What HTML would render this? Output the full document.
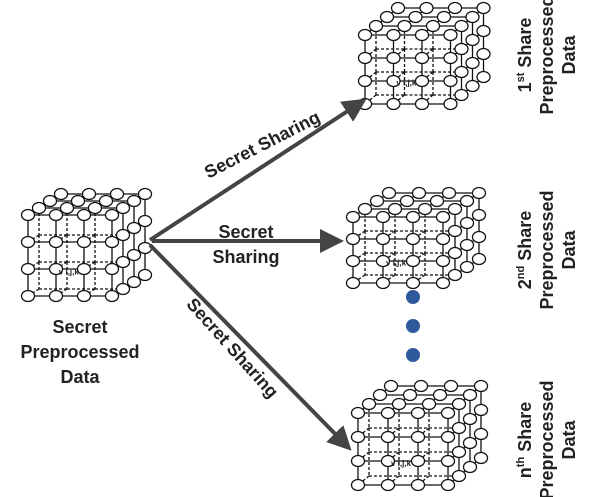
<!DOCTYPE html>
<html><head><meta charset="utf-8"><style>
body{margin:0;background:#fff;width:589px;height:497px;overflow:hidden}
svg{display:block}
text{font-family:"Liberation Sans",Arial,sans-serif;font-weight:bold;fill:#222}
</style></head><body>
<svg id="s" width="589" height="497" viewBox="0 0 589 497">
<defs><marker id="ah" markerWidth="6" markerHeight="6" refX="4" refY="3" orient="auto" markerUnits="strokeWidth"><path d="M0,0 L6,3 L0,6 z" fill="#444"/></marker></defs>
<g id="cubes"></g>
<g stroke="#444" stroke-width="4" fill="none">
<line x1="150" y1="240" x2="360" y2="103" marker-end="url(#ah)"/>
<line x1="152" y1="241" x2="336" y2="241" marker-end="url(#ah)"/>
<line x1="150" y1="245" x2="346" y2="445" marker-end="url(#ah)"/>
</g>
<text x="265" y="150" font-size="18" text-anchor="middle" transform="rotate(-27 265 150)">Secret Sharing</text>
<text x="246" y="238" font-size="18" text-anchor="middle">Secret</text>
<text x="246" y="263" font-size="18" text-anchor="middle">Sharing</text>
<text x="228" y="352" font-size="18" text-anchor="middle" transform="rotate(48 228 352)">Secret Sharing</text>
<text x="80" y="333" font-size="18" text-anchor="middle">Secret</text>
<text x="80" y="358" font-size="18" text-anchor="middle">Preprocessed</text>
<text x="80" y="383" font-size="18" text-anchor="middle">Data</text>
<g font-size="18" text-anchor="middle">
<text transform="translate(531,55) rotate(-90)">1<tspan font-size="11" dy="-7">st</tspan><tspan dy="7"> Share</tspan></text>
<text transform="translate(553,55) rotate(-90)">Preprocessed</text>
<text transform="translate(575,55) rotate(-90)">Data</text>
<text transform="translate(531,250) rotate(-90)">2<tspan font-size="11" dy="-7">nd</tspan><tspan dy="7"> Share</tspan></text>
<text transform="translate(553,250) rotate(-90)">Preprocessed</text>
<text transform="translate(575,250) rotate(-90)">Data</text>
<text transform="translate(531,440) rotate(-90)">n<tspan font-size="11" dy="-7">th</tspan><tspan dy="7"> Share</tspan></text>
<text transform="translate(553,440) rotate(-90)">Preprocessed</text>
<text transform="translate(575,440) rotate(-90)">Data</text>
</g>
<g fill="#2e5a9b"><circle cx="413" cy="297" r="7"/><circle cx="413" cy="326" r="7"/><circle cx="413" cy="355" r="7"/></g>
</svg>
<script>
var NS="http://www.w3.org/2000/svg",G=document.getElementById("cubes");
function el(t,a){var e=document.createElementNS(NS,t);for(var k in a)e.setAttribute(k,a[k]);G.appendChild(e);return e;}
function cube(x0,y0,sx,sy,dx,dy){
 function P(i,j,d){return [x0+i*sx+d*dx,y0+j*sy+d*dy];}
 function L(a,b,dash){el("line",{x1:a[0],y1:a[1],x2:b[0],y2:b[1],stroke:"#111","stroke-width":1.3,"stroke-dasharray":dash?"3,2":"none"});}
 function vis(i,j){return j==0||i==3;}
 for(var d=3;d>=0;d--){
  for(var j=0;j<4;j++)for(var i=0;i<3;i++){var v=(d==0)||j==0; if(v)L(P(i,j,d),P(i+1,j,d),false); else if(d==1)L(P(i,j,d),P(i+1,j,d),true);}
  for(var i=0;i<4;i++)for(var j=0;j<3;j++){var v=(d==0)||i==3; if(v)L(P(i,j,d),P(i,j+1,d),false); else if(d==1)L(P(i,j,d),P(i,j+1,d),true);}
  if(d>0)for(var i=0;i<4;i++)for(var j=0;j<4;j++){ if(vis(i,j))L(P(i,j,d),P(i,j,d-1),false); else if(d==1)L(P(i,j,d),P(i,j,d-1),true);}
 }
 for(var d=3;d>=0;d--)for(var i=0;i<4;i++)for(var j=0;j<4;j++){
  if(d>0&&!vis(i,j))continue;
  var p=P(i,j,d);el("ellipse",{cx:p[0],cy:p[1],rx:6.5,ry:5.5,fill:"#fff",stroke:"#111","stroke-width":1.3});
 }
 var t=el("text",{x:x0+sx*1.1,y:y0+sy*2.2,"font-size":8,fill:"#b33","font-weight":"normal"});t.textContent="v i,j,k";
}
cube(28,215,28,27,11,-7);
cube(365,35,28.5,23,11,-9);
cube(353,217,30,22,12,-8);
cube(358,413,30,24,11,-9);
</script>
</body></html>
